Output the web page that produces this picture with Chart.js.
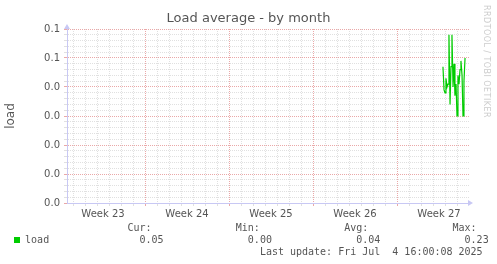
<!DOCTYPE html>
<html>
<head>
<meta charset="utf-8">
<script src="https://cdn.jsdelivr.net/npm/chart.js@4/dist/chart.umd.min.js"></script>
<style>
  body { margin: 0; background: #fff; }
  #wrap { position: relative; width: 497px; height: 264px; overflow: hidden; }
  #title { position: absolute; left: 0; top: 10px; width: 497px; text-align: center; font-family: "DejaVu Sans", sans-serif; font-size: 13px; color: #555; line-height: 16px; }
  .mono { position: absolute; font-family: "DejaVu Sans Mono", monospace; font-size: 10px; color: #555; white-space: pre; line-height: 12px; }
  #rrd { position: absolute; left: 482px; top: 5px; writing-mode: vertical-rl; font-family: "DejaVu Sans", sans-serif; font-size: 8px; color: #ccc; letter-spacing: 0.45px; }
  #swatch { position: absolute; left: 14px; top: 237px; width: 6px; height: 6px; background: #00cc00; }
</style>
</head>
<body>
<div id="wrap">
  <canvas id="myChart" width="497" height="264"></canvas>
  <div id="title">Load average - by month</div>
  <div id="rrd">RRDTOOL / TOBI OETIKER</div>
  <div id="swatch"></div>
  <div class="mono" id="legend"></div>
</div>
<script>
// time axis in days, day 0 = Mon Jun 2 2025 00:00
var weekLabels = ["Week 23", "Week 24", "Week 25", "Week 26", "Week 27"];
var yTickLabels = ["0.0", "0.0", "0.0", "0.0", "0.0", "0.1", "0.1"];

// 2-hour samples, Jul 3 - Jul 5
var loadDays = [31.83, 31.92, 32.0, 32.08, 32.17, 32.25, 32.33, 32.42, 32.5, 32.58, 32.67, 32.75,
  32.83, 32.92, 33.0, 33.08, 33.17, 33.25, 33.33, 33.42, 33.5, 33.58, 33.67];
var loadValues = [0.047, 0.039, 0.038, 0.043, 0.040, 0.041, 0.058, 0.034, 0.047, 0.058, 0.040, 0.048,
  0.037, 0.041, 0.030, 0.044, 0.041, 0.046, 0.049, 0.044, 0.030, 0.042, 0.050];

var statNames = ["Cur:", "Min:", "Avg:", "Max:"];
var statValues = ["0.05", "0.00", "0.04", "0.23"];
var lastUpdate = "Last update: Fri Jul  4 16:00:08 2025";

var points = loadDays.map((d, i) => ({ x: d, y: loadValues[i] }));

var majorColor = "#eaa8a8";
var minorColor = "#e0e0e0";
var axisColor = "#c8c8f4";

// axis arrows like rrdtool
var arrows = {
  id: "arrows",
  afterDraw(chart) {
    var a = chart.chartArea;
    var c = chart.ctx;
    c.save();
    c.fillStyle = axisColor;
    c.beginPath();
    c.moveTo(a.right + 4, a.bottom);
    c.lineTo(a.right - 1, a.bottom - 3);
    c.lineTo(a.right - 1, a.bottom + 3);
    c.fill();
    c.beginPath();
    c.moveTo(a.left, a.top - 5);
    c.lineTo(a.left - 3, a.top);
    c.lineTo(a.left + 3, a.top);
    c.fill();
    c.restore();
  },
};

Chart.defaults.font.family = "DejaVu Sans";
Chart.defaults.color = "#555";

var ctx = document.getElementById("myChart").getContext("2d");
var myChart = new Chart(ctx, {
  type: "line",
  data: {
    datasets: [
      {
        label: "load",
        data: points,
        borderColor: "#00cc00",
        borderWidth: 1.2,
        pointRadius: 0,
        tension: 0,
        fill: false,
      },
    ],
  },
  options: {
    responsive: false,
    animation: false,
    devicePixelRatio: 1,
    layout: { padding: { top: 29, left: 0, right: 28, bottom: 0 } },
    plugins: {
      legend: { display: false },
      tooltip: { enabled: false },
      title: { display: false },
    },
    scales: {
      x: {
        type: "linear",
        min: 0.5,
        max: 34,
        afterBuildTicks(scale) {
          var t = [];
          for (var d = 1; d <= 33; d++) t.push({ value: d });
          for (var w = 0; w < weekLabels.length; w++) t.push({ value: 3.5 + 7 * w });
          t.sort((p, q) => p.value - q.value);
          scale.ticks = t;
        },
        afterFit(scale) {
          scale.height = 61;
        },
        ticks: {
          autoSkip: false,
          maxRotation: 0,
          padding: 2,
          font: { size: 10 },
          callback(value) {
            var k = (value - 3.5) / 7;
            if (Number.isInteger(k)) return weekLabels[k];
            return "";
          },
        },
        grid: {
          tickLength: 3,
          color(c) {
            var v = c.tick ? c.tick.value : 0;
            if (!Number.isInteger(v)) return "rgba(0,0,0,0)";
            return v % 7 === 0 ? majorColor : minorColor;
          },
        },
        border: { color: axisColor, width: 1, dash: [1, 1] },
      },
      y: {
        min: 0,
        max: 0.06,
        afterBuildTicks(scale) {
          var t = [];
          for (var i = 0; i <= 30; i++) t.push({ value: i / 500 });
          scale.ticks = t;
        },
        afterFit(scale) {
          scale.width = 67;
        },
        ticks: {
          autoSkip: false,
          padding: 4,
          font: { size: 10 },
          callback(value, index) {
            if (index % 5 === 0) return yTickLabels[index / 5];
            return "";
          },
        },
        grid: {
          tickLength: 3,
          color(c) {
            return c.index % 5 === 0 ? majorColor : minorColor;
          },
        },
        border: { color: axisColor, width: 1, dash: [1, 1] },
        title: {
          display: true,
          text: "load",
          color: "#555",
          font: { size: 12 },
          padding: { top: 4, bottom: 0 },
        },
      },
    },
  },
  plugins: [arrows],
});

// legend block under the chart
var legend = document.getElementById("legend");
var pad = (s, n) => " ".repeat(Math.max(0, n - s.length)) + s;
legend.style.left = "1px";
legend.style.top = "222px";
legend.textContent =
  pad(statNames[0], 25) + pad(statNames[1], 18) + pad(statNames[2], 18) + pad(statNames[3], 18) + "\n" +
  "    load" + pad(statValues[0], 19) + pad(statValues[1], 18) + pad(statValues[2], 18) + pad(statValues[3], 18) + "\n" +
  pad(lastUpdate, 80);
</script>
</body>
</html>
